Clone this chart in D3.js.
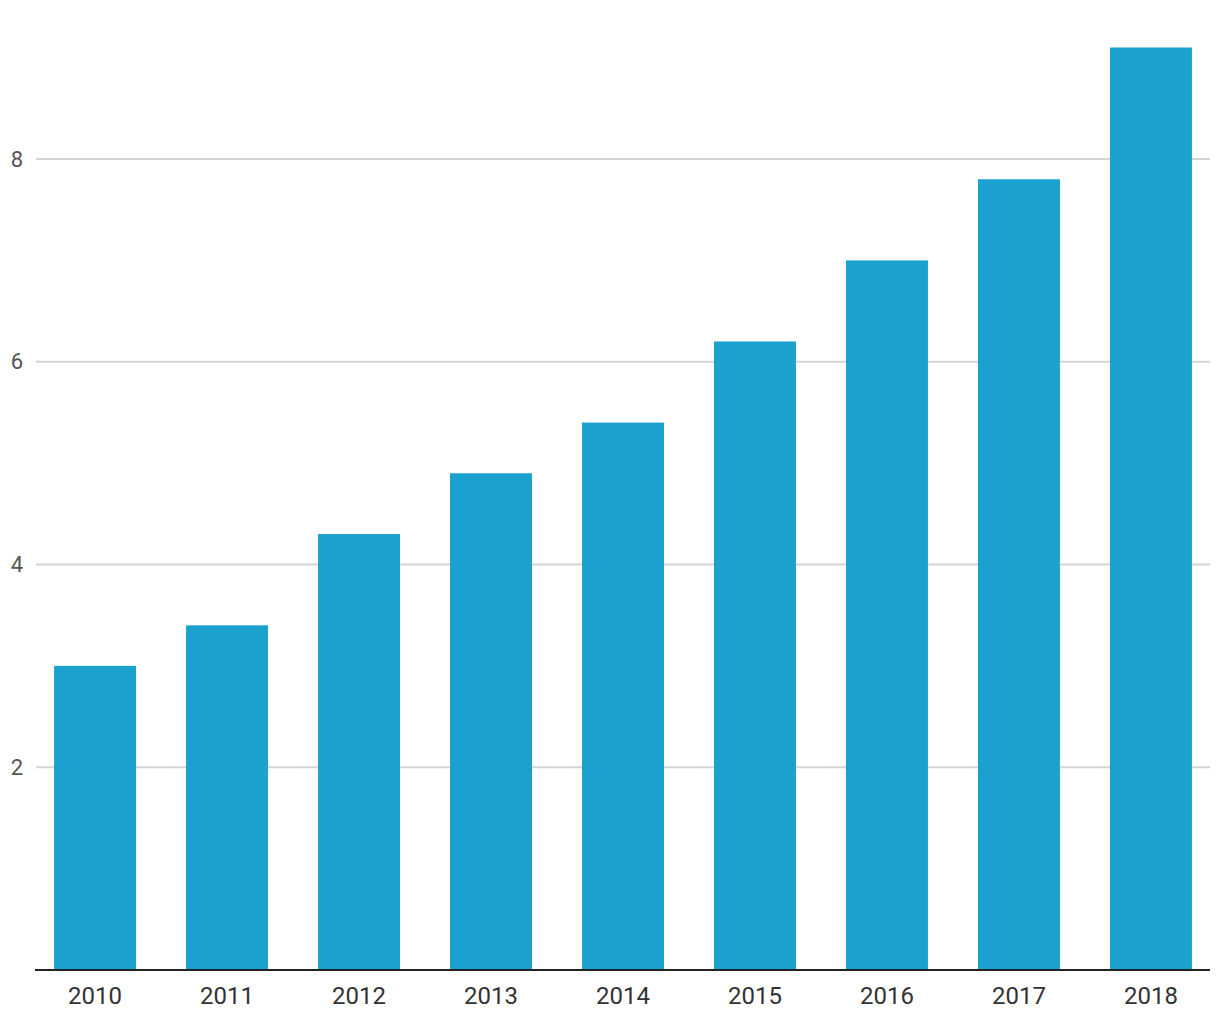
<!DOCTYPE html>
<html>
<head>
<meta charset="utf-8">
<script src="https://cdn.jsdelivr.net/npm/d3@7"></script>
<style>
  body { margin: 0; background: #fff; }
  text { font-family: Roboto, "Noto Sans", sans-serif; }
</style>
</head>
<body>
<div id="chart"></div>
<script>
// Data
const years = ["2010", "2011", "2012", "2013", "2014", "2015", "2016", "2017", "2018"];
const values = [3.0, 3.4, 4.3, 4.9, 5.4, 6.2, 7.0, 7.8, 9.1];
const yTicks = [2, 4, 6, 8];

const W = 1220, H = 1020;
const plotLeft = 36, plotRight = 1210, plotBottom = 970;

const svg = d3.select("#chart")
    .append("svg")
    .attr("width", W)
    .attr("height", H);

// Scales
const x = d3.scaleBand()
    .domain(years)
    .range([29, 1217])
    .paddingInner(0.379)
    .paddingOuter(0.19);

const y = d3.scaleLinear()
    .domain([0, 8])
    .range([plotBottom, 159]);

// Gridlines
svg.append("g")
    .selectAll("line")
    .data(yTicks)
    .enter()
    .append("line")
    .attr("x1", plotLeft)
    .attr("x2", plotRight)
    .attr("y1", d => y(d))
    .attr("y2", d => y(d))
    .attr("stroke", "#d4d4d4")
    .attr("stroke-width", 2);

// Y labels
svg.append("g")
    .selectAll("text")
    .data(yTicks)
    .enter()
    .append("text")
    .attr("x", 23)
    .attr("y", d => y(d))
    .attr("dy", "0.35em")
    .attr("text-anchor", "end")
    .attr("fill", "#555")
    .style("font-size", "22px")
    .text(d => d);

// Bars
svg.append("g")
    .selectAll("rect")
    .data(values)
    .enter()
    .append("rect")
    .attr("x", (d, i) => x(years[i]))
    .attr("width", x.bandwidth())
    .attr("y", d => y(d))
    .attr("height", d => plotBottom - y(d))
    .attr("fill", "#1aa1cd");

// X axis
const xAxis = svg.append("g")
    .attr("transform", `translate(0,${plotBottom})`)
    .call(d3.axisBottom(x).tickSize(0).tickPadding(17));
xAxis.select(".domain").remove();
xAxis.selectAll("text")
    .attr("fill", "#333")
    .style("font-size", "24px")
    .style("font-family", "Roboto, sans-serif");

svg.append("line")
    .attr("x1", plotLeft - 1)
    .attr("x2", plotRight)
    .attr("y1", plotBottom)
    .attr("y2", plotBottom)
    .attr("stroke", "#222")
    .attr("stroke-width", 2);
</script>
</body>
</html>
